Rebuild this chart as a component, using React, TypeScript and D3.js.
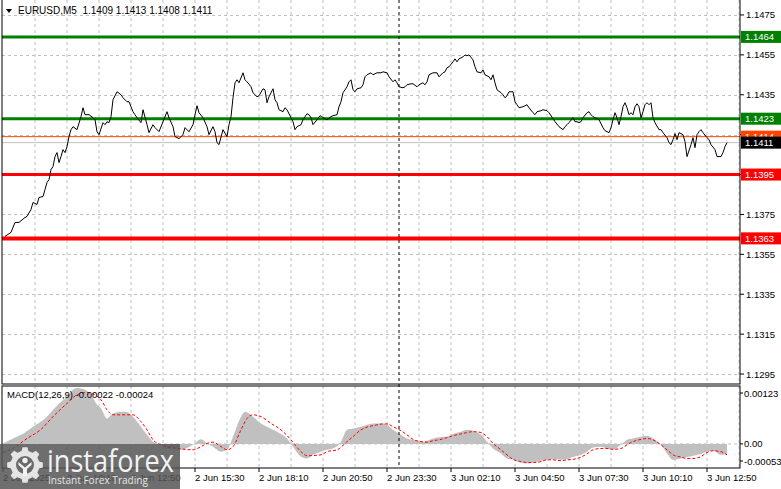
import * as d3 from "d3";

// EURUSD M5, bar 0 = 2 Jun 07:30 (close prices)
const priceBar = [
  1, 4, 6, 8, 11, 12, 14, 15, 17, 18, 20, 21, 22, 23, 24, 25, 26, 27, 28, 29, 30, 31, 32, 33, 34, 35, 37, 39, 40, 41,
  43, 45, 46, 47, 48, 50, 51, 52, 53, 54, 55, 57, 59, 60, 62, 63, 65, 66, 67, 69, 70, 72, 73, 75, 76, 77, 78, 80, 82, 83,
  85, 86, 88, 90, 91, 93, 95, 96, 97, 98, 100, 102, 103, 105, 106, 107, 108, 110, 112, 113, 114, 115, 116, 117, 118, 120,
  121, 122, 124, 125, 127, 128, 130, 131, 132, 133, 135, 136, 137, 138, 140, 141, 142, 144, 145, 146, 147, 149, 150, 152,
  153, 154, 155, 157, 158, 159, 160, 162, 164, 165, 167, 168, 169, 170, 172, 173, 174, 175, 176, 177, 179, 180, 181, 182,
  184, 185, 187, 189, 190, 192, 193, 195, 196, 197, 198, 200, 201, 202, 204, 205, 207, 208, 210, 211, 212, 213, 215, 217,
  218, 220, 221, 222, 223, 225, 226, 227, 228, 230, 231, 232, 233, 235, 236, 237, 239, 240, 241, 243,
  244, 245, 246, 247, 249, 250, 251, 252, 253, 255, 256, 257, 258, 260, 262, 263, 265, 266, 267, 269, 270, 272, 273, 275,
  276, 278, 280, 281, 282, 283, 285, 286, 287, 288, 289, 290, 292, 293, 294, 295, 296, 298, 300, 301, 303, 304, 305, 306,
  307, 308, 309, 310, 311, 312, 313, 314, 315, 316, 317, 318, 319, 320, 321, 322, 323, 324, 325, 326, 328, 329, 330, 332,
  333, 334, 335, 336, 337, 338, 340, 341, 342, 344, 345, 346, 347, 348, 349, 350, 352, 353, 354, 356, 357, 359, 360, 361, 362,
];
const priceClose = [
  1.1364, 1.1366, 1.1371, 1.1371, 1.13735, 1.1374, 1.13775, 1.1381, 1.138, 1.13835, 1.1384, 1.13875, 1.1391, 1.13925, 1.13975,
  1.1399, 1.1404, 1.1406, 1.1401, 1.1404, 1.14075, 1.1406, 1.1409, 1.1414, 1.14175, 1.1419, 1.14175, 1.1424, 1.14285, 1.1425,
  1.1425, 1.14235, 1.14225, 1.14165, 1.1415, 1.1421, 1.142, 1.14215, 1.1421, 1.1424, 1.14325, 1.14365, 1.1435, 1.14335, 1.14315,
  1.14315, 1.14265, 1.1425, 1.14235, 1.1421, 1.14275, 1.142, 1.1416, 1.142, 1.14185, 1.14175, 1.14165, 1.14215, 1.14265, 1.14235,
  1.1419, 1.1414, 1.1413, 1.1415, 1.14185, 1.14165, 1.142, 1.1425, 1.14295, 1.1426, 1.14235, 1.1419, 1.1415, 1.1419, 1.14165,
  1.1411, 1.141, 1.14175, 1.1414, 1.142, 1.1424, 1.14335, 1.1441, 1.14425, 1.1441, 1.1446,
  1.14425, 1.14415, 1.1439, 1.1436, 1.1434, 1.14345, 1.1438, 1.14375, 1.1431, 1.1434, 1.1438, 1.14325, 1.1431, 1.14275,
  1.14265, 1.14285, 1.14275, 1.14235, 1.14215, 1.14175, 1.1419, 1.142, 1.14225, 1.14255,
  1.1425, 1.14235, 1.142, 1.14225, 1.1424, 1.14245, 1.14235, 1.14225, 1.1424, 1.14245, 1.1425, 1.1429, 1.14315, 1.1436,
  1.1439, 1.14415, 1.14425, 1.14375, 1.14365, 1.1438, 1.14385, 1.144, 1.1444, 1.1445,
  1.1446, 1.1445, 1.1446, 1.1446, 1.14465, 1.1446, 1.1444, 1.14415, 1.14425, 1.1441, 1.1439, 1.14385, 1.1439, 1.144,
  1.14405, 1.14405, 1.1439, 1.144, 1.1441, 1.144, 1.14415, 1.1445, 1.1446, 1.1446,
  1.1444, 1.1446, 1.14465, 1.14485, 1.1449, 1.14515, 1.1453, 1.14515, 1.1453, 1.1454, 1.1455, 1.14545, 1.1455, 1.14525,
  1.1449, 1.14465, 1.1446, 1.14475, 1.1445, 1.1444,
  1.14425, 1.1445, 1.1441, 1.14375, 1.1436, 1.1435, 1.14335, 1.14345, 1.14365, 1.14365, 1.14315, 1.143, 1.14285, 1.1429,
  1.143, 1.14285, 1.1426, 1.1425, 1.14265, 1.1427, 1.14275, 1.1427, 1.1426, 1.1423,
  1.14215, 1.1419, 1.14175, 1.1419, 1.142, 1.1421, 1.14235, 1.14215, 1.14215, 1.1421, 1.14215, 1.14235, 1.1426, 1.14265,
  1.1425, 1.1424, 1.14235, 1.14225, 1.14185, 1.1417, 1.1416, 1.14185, 1.14225, 1.1426,
  1.14235, 1.142, 1.1424, 1.1429, 1.1431, 1.14285, 1.1425, 1.1426, 1.1425, 1.1429, 1.14305, 1.1429, 1.14235, 1.14265,
  1.143, 1.1431, 1.143, 1.1431, 1.14235, 1.1421, 1.14175, 1.14175, 1.1416, 1.14135,
  1.1411, 1.141, 1.14125, 1.14155, 1.14125, 1.1416, 1.1415, 1.14115, 1.1404, 1.141, 1.14135, 1.14085, 1.1415, 1.14165,
  1.14175, 1.1416, 1.14135, 1.14125, 1.141, 1.14075, 1.1404, 1.1404, 1.1406, 1.1409, 1.1411,
];

// MACD(12,26,9) histogram and signal line
const histBar = [
  0, 5, 9, 15, 22, 25, 29, 32, 34, 37, 41, 44, 47, 49, 52, 55, 59, 62, 65, 69, 72, 75, 79, 82, 89, 95, 99, 102, 105, 109,
  112, 115, 119, 121, 125, 129, 132, 137, 142, 145, 149, 152, 155, 159, 162, 165, 169, 172, 175, 179, 182, 185, 189, 192,
  195, 199, 202, 205, 209, 212, 215, 219, 222, 225, 229, 232, 235, 239, 242, 245, 249, 252, 255, 259, 262, 265, 269, 272,
  275, 279, 282, 285, 289, 292, 295, 299, 302, 305, 309, 312, 315, 319, 322, 325, 329, 332, 335, 339, 342, 345, 349, 352,
  355, 359, 362,
];
const histValue = [
  0.00001, 0.00012, 0.0002, 0.00038, 0.0006, 0.00075, 0.00093, 0.00104, 0.00115, 0.00123, 0.00119, 0.00108, 0.00086,
  0.00078, 0.00056, 0.00067, 0.00071, 0.0007, 0.0006, 0.00038, 0.0002, 0.00005, -0.00002, -0.0001, -0.00013, -0.00002,
  0.0001, 0.00001, -0.00006, -0.00017, -0.00013, 0.00016, 0.0006, 0.00071, 0.0006, 0.00045, 0.00038, 0.00027, 0.00012,
  -0.00006, -0.00028, -0.00032, -0.00024, -0.00017, -0.00013, -0.0001, 0.00005, 0.00031, 0.00034, 0.00038, 0.00042,
  0.00045, 0.00045, 0.00042, 0.00031, 0.0002, 0.00012, 0.00009, 0.00005, 0.00007, 0.00012, 0.00015, 0.00016, 0.00022,
  0.00027, 0.00031, 0.00029, 0.0002, 0.00005, -0.0001, -0.00021, -0.00032, -0.00035, -0.00041, -0.00043, -0.00041,
  -0.00037, -0.00035, -0.00034, -0.00035, -0.00034, -0.00029, -0.00024, -0.00017, -0.00008, -0.00006, -0.0001, -0.00013,
  -0.00002, 0.00009, 0.00012, 0.00016, 0.00018, 0.00012, -0.00002, -0.00021, -0.00035, -0.00032, -0.00029, -0.00026,
  -0.00022, -0.00017, -0.00015, -0.00024, -0.00022,
];
const signalBar = [
  0, 5, 12, 19, 25, 32, 37, 42, 49, 52, 55, 62, 65, 69, 72, 75, 79, 82, 89, 95, 99, 102, 105, 109, 112, 115, 119, 122,
  125, 129, 134, 139, 144, 149, 152, 159, 162, 167, 172, 175, 179, 182, 185, 190, 192, 195, 199, 202, 205, 209, 212, 215,
  219, 222, 225, 229, 232, 235, 239, 242, 245, 249, 252, 255, 259, 262, 265, 269, 272, 275, 279, 282, 285, 289, 292, 295,
  299, 302, 305, 309, 312, 315, 319, 322, 325, 329, 332, 335, 339, 342, 345, 349, 352, 355, 359, 362,
];
const signalValue = [
  -0.00019, -0.0001, 0.00012, 0.00032, 0.0006, 0.00089, 0.00108, 0.00113, 0.00097, 0.00075, 0.00064, 0.00064, 0.00064,
  0.00049, 0.00031, 0.00009, -0.00002, -0.00006, -0.00011, -0.00013, -0.00006, 0.00001, 0.00004, -0.00006, -0.00013,
  -0.00006, 0.00031, 0.00056, 0.00064, 0.0006, 0.00045, 0.00031, 0.00009, -0.00017, -0.00026, -0.00024, -0.00017,
  -0.00013, 0.00005, 0.00016, 0.00031, 0.00037, 0.0004, 0.00044, 0.00044, 0.00038, 0.00029, 0.0002, 0.0001, 0.00005,
  0.00004, 0.00007, 0.0001, 0.00014, 0.00018, 0.00022, 0.00025, 0.00027, 0.00025, 0.00016, 0.00001, -0.00013, -0.00024,
  -0.00034, -0.00039, -0.00041, -0.00041, -0.00039, -0.00035, -0.00035, -0.00037, -0.00035, -0.00034, -0.00029, -0.00022,
  -0.00013, -0.0001, -0.0001, -0.00012, -0.0001, -0.00002, 0.00005, 0.0001, 0.00012, 0.00009, -0.00002, -0.00013,
  -0.00024, -0.00029, -0.00032, -0.00032, -0.00028, -0.00019, -0.00015, -0.00017, -0.00024,
];

const priceTicks = [1.1475, 1.1455, 1.1435, 1.1415, 1.1395, 1.1375, 1.1355, 1.1335, 1.1315, 1.1295];
const macdTicks = [0.00123, 0, -0.00053];
const macdTickLabels = ["0.00123", "0.00", "-0.00053"];
const timeLabelBars = [0, 32, 64, 96, 128, 160, 192, 224, 256, 288, 320, 352];
const timeLabels = [
  "2 Jun 2025", "2 Jun 10:10", "2 Jun 12:50", "2 Jun 15:30", "2 Jun 18:10", "2 Jun 20:50",
  "2 Jun 23:30", "3 Jun 02:10", "3 Jun 04:50", "3 Jun 07:30", "3 Jun 10:10", "3 Jun 12:50",
];
const buyLevels = [1.1464, 1.1423];
const sellLevels = [1.1395, 1.1363];
const askPrice = 1.1414;
const bidPrice = 1.1411;
const daySeparatorBar = 198;
const header = "EURUSD,M5  1.1409 1.1413 1.1408 1.1411";
const macdHeader = "MACD(12,26,9) -0.00022 -0.00024";

const font = "'Liberation Sans', Arial, sans-serif";
const gridColor = "#c0c0c0";

export default function App() {
  const left = 2, right = 740;
  const mainTop = 0, mainBottom = 384;
  const macdTop = 386, macdBottom = 468;

  const x = d3.scaleLinear().domain([0, 368]).range([3, 739]);
  const y = d3.scaleLinear().domain([1.129, 1.14825]).range([mainBottom, mainTop]);
  const ym = d3.scaleLinear().domain([-0.00053, 0.00123]).range([macdBottom, macdTop + 2]);

  const pricePath = d3.line<number>()
    .x((_, i) => x(priceBar[i]))
    .y((d) => y(d))(priceClose) || "";

  const histPath = d3.area<number>()
    .x((_, i) => x(histBar[i]))
    .y0(ym(0))
    .y1((d) => ym(d))
    .curve(d3.curveMonotoneX)(histValue) || "";

  const signalPath = d3.line<number>()
    .x((_, i) => x(signalBar[i]))
    .y((d) => ym(d))
    .curve(d3.curveMonotoneX)(signalValue) || "";

  const gridBars = d3.range(16, 369, 16);

  const labelBox = (value: number, fill: string, key: string) => (
    <g key={key}>
      <rect x={741} y={y(value) - 6} width={40} height={12} fill={fill} />
      <text x={745} y={y(value) + 3.5} fill="#fff" fontSize={9.5} fontFamily={font}>
        {value.toFixed(4)}
      </text>
    </g>
  );

  // gear outline for the watermark icon
  const gear = (() => {
    const cx = 25, cy = 465, ro = 18, ri = 14.5, teeth = 8;
    const pts: [number, number][] = [];
    for (let k = 0; k < teeth; k++) {
      const a = (k / teeth) * Math.PI * 2;
      const w = Math.PI / teeth;
      pts.push([cx + ri * Math.cos(a - w * 0.6), cy + ri * Math.sin(a - w * 0.6)]);
      pts.push([cx + ro * Math.cos(a - w * 0.35), cy + ro * Math.sin(a - w * 0.35)]);
      pts.push([cx + ro * Math.cos(a + w * 0.35), cy + ro * Math.sin(a + w * 0.35)]);
      pts.push([cx + ri * Math.cos(a + w * 0.6), cy + ri * Math.sin(a + w * 0.6)]);
    }
    return "M" + pts.map((p) => p.join(",")).join("L") + "Z";
  })();

  return (
    <div style={{ position: "absolute", left: 0, top: 0 }}>
      <svg width={781} height={489} style={{ display: "block", background: "#fff" }}>
        {/* grid */}
        {gridBars.map((b) => (
          <g key={"vg" + b}>
            <line x1={x(b)} x2={x(b)} y1={mainTop} y2={mainBottom} stroke={gridColor} strokeDasharray="3,3" />
            <line x1={x(b)} x2={x(b)} y1={macdTop} y2={macdBottom} stroke={gridColor} strokeDasharray="3,3" />
          </g>
        ))}
        {priceTicks.map((p) => (
          <line key={"hg" + p} x1={left} x2={right} y1={Math.round(y(p)) + 0.5} y2={Math.round(y(p)) + 0.5}
            stroke={gridColor} strokeDasharray="3,3" />
        ))}
        <line x1={left} x2={right} y1={ym(0)} y2={ym(0)} stroke={gridColor} strokeDasharray="3,3" />

        {/* ask / bid lines */}
        <line x1={left} x2={right} y1={y(bidPrice)} y2={y(bidPrice)} stroke="#c0c0c0" />
        <line x1={left} x2={right} y1={y(askPrice)} y2={y(askPrice)} stroke="#ff4500" />

        {/* support / resistance levels */}
        {buyLevels.map((v) => (
          <line key={"b" + v} x1={left} x2={right} y1={y(v)} y2={y(v)} stroke="#008000" strokeWidth={3} />
        ))}
        {sellLevels.map((v, i) => (
          <line key={"s" + v} x1={left} x2={right} y1={y(v)} y2={y(v)} stroke="#ff0000" strokeWidth={i === 0 ? 3 : 4} />
        ))}

        {/* price */}
        <path d={pricePath} fill="none" stroke="#000" strokeWidth={1} />

        {/* MACD */}
        <path d={histPath} fill="#c0c0c0" />
        <path d={signalPath} fill="none" stroke="#ff0000" strokeWidth={1} strokeDasharray="3,2" />

        {/* day separator */}
        <line x1={x(daySeparatorBar)} x2={x(daySeparatorBar)} y1={mainTop} y2={macdBottom}
          stroke="#000" strokeDasharray="3,3" />

        {/* frames */}
        <rect x={left} y={-1} width={right - left} height={mainBottom + 1} fill="none" stroke="#000" />
        <rect x={left} y={macdTop} width={right - left} height={macdBottom - macdTop} fill="none" stroke="#000" />

        {/* header texts */}
        <path d="M6,9L12,9L9,13Z" fill="#000" />
        <text x={18} y={14} fontSize={10} fontFamily={font} style={{ whiteSpace: "pre" }}>{header}</text>
        <text x={7} y={398} fontSize={9.5} fontFamily={font}>{macdHeader}</text>

        {/* price axis */}
        {priceTicks.map((p) => (
          <g key={"pt" + p}>
            <line x1={right} x2={right + 4} y1={y(p)} y2={y(p)} stroke="#000" />
            <text x={746} y={y(p) + 3.5} fontSize={9.5} fontFamily={font}>{p.toFixed(4)}</text>
          </g>
        ))}
        {buyLevels.map((v) => labelBox(v, "#008000", "lb" + v))}
        {sellLevels.map((v) => labelBox(v, "#ff0000", "ls" + v))}
        {labelBox(askPrice, "#ff4500", "ask")}
        {labelBox(bidPrice, "#000000", "bid")}

        {/* MACD axis */}
        {macdTicks.map((v, i) => {
          const ty = Math.min(Math.max(ym(v), 393), 461);
          return (
            <g key={"mt" + i}>
              <line x1={right} x2={right + 3} y1={ty} y2={ty} stroke="#000" />
              <text x={744} y={ty + 3.5} fontSize={9.5} fontFamily={font}>{macdTickLabels[i]}</text>
            </g>
          );
        })}

        {/* time axis */}
        {timeLabelBars.map((b, i) => (
          <g key={"tl" + b}>
            <line x1={x(b)} x2={x(b)} y1={macdBottom} y2={macdBottom + 4} stroke="#000" />
            <text x={x(b)} y={481} fontSize={9.5} fontFamily={font}>{timeLabels[i]}</text>
          </g>
        ))}

        {/* watermark */}
        <g>
          <rect x={0} y={444} width={180} height={45} fill="#555555" opacity={0.85} />
          <path d={gear} fill="#f2f2f2" opacity={0.9} />
          <circle cx={25} cy={465} r={9} fill="#6a6a6a" />
          <circle cx={25} cy={460.5} r={2.7} fill="#f2f2f2" />
          <path d="M18.5,462 L25,467.5 L31.5,462 L31.5,465 L27,469 L27,476 L23,476 L23,469 L18.5,465 Z" fill="#f2f2f2" />
          <text x={47} y={472} fontSize={31} fontFamily="'Open Sans', sans-serif" fill="#f2f2f2"
            textLength={127} lengthAdjust="spacingAndGlyphs">instaforex</text>
          <text x={48} y={484} fontSize={11.5} fontFamily="'Open Sans', sans-serif" fill="#e6e6e6"
            textLength={100} lengthAdjust="spacingAndGlyphs">Instant Forex Trading</text>
        </g>
      </svg>
    </div>
  );
}
